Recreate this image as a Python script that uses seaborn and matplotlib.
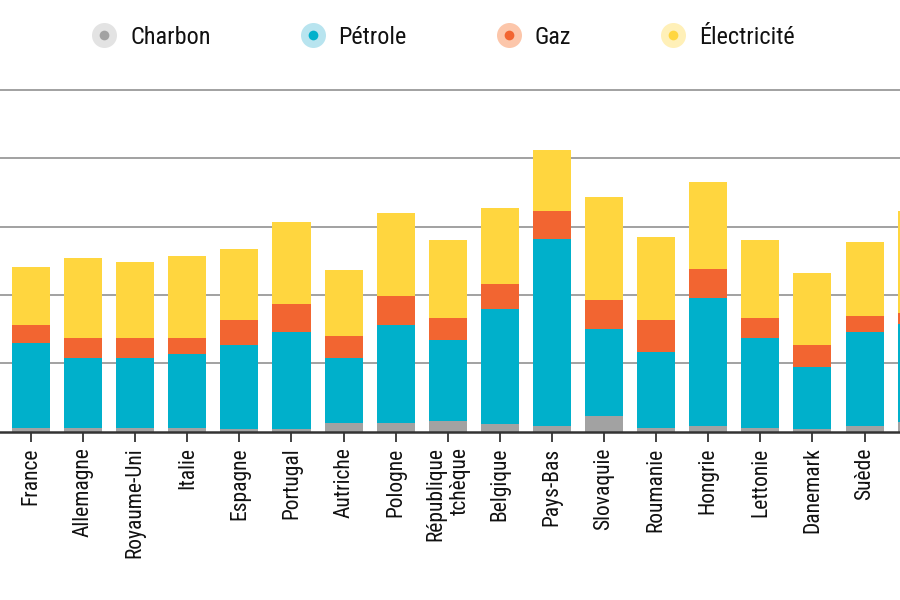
import matplotlib
matplotlib.use("Agg")
import matplotlib.pyplot as plt
from matplotlib.lines import Line2D
from matplotlib.legend_handler import HandlerTuple
import seaborn as sns
import pandas as pd
import numpy as np

countries = ["France", "Allemagne", "Royaume-Uni", "Italie", "Espagne", "Portugal",
             "Autriche", "Pologne", "République\ntchèque", "Belgique", "Pays-Bas",
             "Slovaquie", "Roumanie", "Hongrie", "Lettonie", "Danemark", "Suède", "Irlande"]
charbon = [0.9, 1.0, 1.0, 1.0, 0.85, 0.65, 2.4, 2.4, 3.1, 2.2, 1.7, 4.5, 1.1, 1.7, 1.1, 0.8, 1.7, 2.9]
petrole = [25.1, 20.4, 20.4, 21.7, 24.4, 28.6, 19.0, 28.8, 23.6, 33.6, 54.6, 25.5, 22.3, 37.5, 26.2, 18.0, 27.5, 28.5]
gaz = [5.2, 5.9, 5.9, 4.6, 7.4, 8.0, 6.5, 8.6, 6.5, 7.3, 8.4, 8.5, 9.3, 8.4, 6.0, 6.5, 4.7, 3.2]
electricite = [17.1, 23.6, 22.3, 24.2, 20.8, 24.0, 19.5, 24.1, 22.9, 22.3, 17.8, 30.1, 24.2, 25.6, 22.8, 21.0, 21.6, 30.0]
series_names = ["Charbon", "Pétrole", "Gaz", "Électricité"]
colors = ["#a2a2a2", "#00b0cb", "#f26531", "#ffd63f"]
halo_colors = ["#e3e3e3", "#b8e4ef", "#fcc6aa", "#fff0b8"]
grid_ticks = [20, 40, 60, 80, 100]

sns.set_style("white")
plt.rcParams["font.family"] = ["Roboto Condensed", "DejaVu Sans"]

df = pd.DataFrame({"pos": np.arange(len(countries)), "pays": countries,
                   "Charbon": charbon, "Pétrole": petrole,
                   "Gaz": gaz, "Électricité": electricite})
cum = df[series_names].cumsum(axis=1)

fig = plt.figure(figsize=(9, 6), dpi=100)
ax = fig.add_axes([0, 0.2808, 1, 0.5859])

for i in range(len(series_names) - 1, -1, -1):
    sns.barplot(x=df["pos"], y=cum[series_names[i]], color=colors[i], width=0.73,
                native_scale=True, saturation=1, ax=ax, zorder=3, linewidth=0)

ax.set_xticks(df["pos"])
ax.set_xticklabels(countries, rotation=90, ha="center", va="top", fontsize=15.5,
                   color="#111111")
for t in ax.get_xticklabels():
    t.set_multialignment("right")
ax.set_yticks(grid_ticks)
ax.set_xlim(-0.595, 16.68)
ax.set_ylim(0, 102.93)
ax.yaxis.grid(True, color="#9a9a9a", linewidth=1.3, zorder=0)
ax.xaxis.grid(False)
ax.set_axisbelow(True)
for s in ["top", "right", "left"]:
    ax.spines[s].set_visible(False)
ax.spines["bottom"].set_color("#333333")
ax.spines["bottom"].set_linewidth(1.8)
ax.spines["bottom"].set_zorder(5)
ax.tick_params(axis="y", left=False, labelleft=False)
ax.tick_params(axis="x", bottom=True, length=7.5, width=1.2, color="#222222", pad=4)
ax.set_xlabel("")
ax.set_ylabel("")

handles = []
for c, h in zip(colors, halo_colors):
    halo = Line2D([], [], marker="o", ls="", markersize=18, markerfacecolor=h, markeredgewidth=0)
    dot = Line2D([], [], marker="o", ls="", markersize=7, markerfacecolor=c, markeredgewidth=0)
    handles.append((halo, dot))
fs = 17.5
pt = fs * 100 / 72
fig.legend(handles, series_names, handler_map={tuple: HandlerTuple(ndivide=1, pad=0)},
           ncol=4, loc="center", bbox_to_anchor=(443 / 900, 1 - 37 / 600), frameon=False,
           fontsize=fs, handlelength=26 / pt, handletextpad=13 / pt, columnspacing=89 / pt,
           labelcolor="#111111")

fig.savefig("out.png", dpi=100)
